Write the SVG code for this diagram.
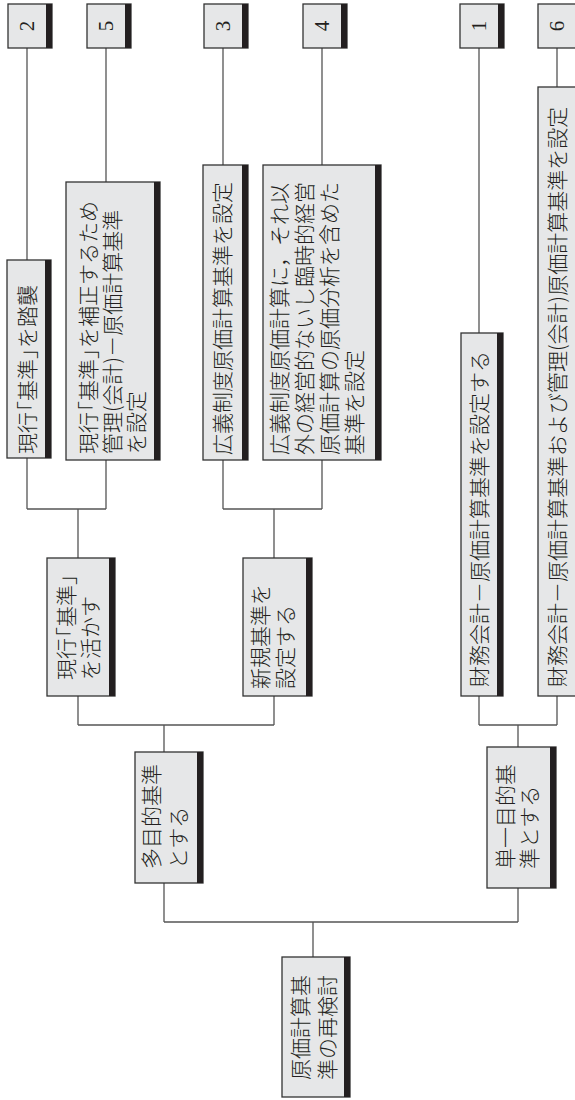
<svg xmlns="http://www.w3.org/2000/svg" width="575" height="1100" viewBox="0 0 575 1100">
<style>
.bx{fill:#e6e7e8;stroke:#333;stroke-width:1.3}
.sh{fill:#231f20}
.t{font-family:"Noto Sans CJK JP","Noto Sans CJK SC",sans-serif;font-size:21px;fill:#231f20;font-weight:300}
.n{font-family:"Liberation Serif",serif;font-size:21px;fill:#231f20;text-anchor:middle}
.c{fill:none;stroke:#555;stroke-width:1.3}
</style>
<rect width="575" height="1100" fill="#fff"/>
<g id="connectors" class="c">
<path d="M27,48V260M27,458V509M106,48V182M106,460V509M27,509H106M78,509V558"/>
<path d="M223,48V165M223,460V509M322,48V165M322,460V509M223,509H322M274,509V558"/>
<path d="M78,696V725M274,696V725M78,725H274M164,725V752"/>
<path d="M479,48V333M557,48V87M479,696V725M557,696V725M479,725H557M518,725V747"/>
<path d="M164,883V922M518,888V922M164,922H518M313,922V957"/>
</g>
<g id="n2"><rect class="bx" x="8" y="4" width="44" height="44"/><rect class="sh" x="46" y="4" width="6" height="44"/><text class="n" transform="translate(34,26) rotate(-90)">2</text></g>
<g id="n5"><rect class="bx" x="87" y="4" width="44" height="44"/><rect class="sh" x="125" y="4" width="6" height="44"/><text class="n" transform="translate(113,26) rotate(-90)">5</text></g>
<g id="n3"><rect class="bx" x="204" y="4" width="44" height="44"/><rect class="sh" x="242" y="4" width="6" height="44"/><text class="n" transform="translate(230,26) rotate(-90)">3</text></g>
<g id="n4"><rect class="bx" x="303" y="4" width="44" height="44"/><rect class="sh" x="341" y="4" width="6" height="44"/><text class="n" transform="translate(329,26) rotate(-90)">4</text></g>
<g id="n1"><rect class="bx" x="460" y="4" width="44" height="44"/><rect class="sh" x="498" y="4" width="6" height="44"/><text class="n" transform="translate(486,26) rotate(-90)">1</text></g>
<g id="n6"><rect class="bx" x="538" y="4" width="44" height="44"/><rect class="sh" x="576" y="4" width="6" height="44"/><text class="n" transform="translate(564,26) rotate(-90)">6</text></g>

<g id="leaf2"><rect class="bx" x="7" y="260" width="44" height="198"/><rect class="sh" x="45" y="260" width="6" height="198"/>
<text class="t" transform="translate(35,454) rotate(-90)">現行<tspan dx="-10">「</tspan>基準」<tspan dx="-10">を</tspan>踏襲</text></g>
<g id="leaf5"><rect class="bx" x="66" y="182" width="94" height="278"/><rect class="sh" x="154" y="182" width="6" height="278"/>
<text class="t" transform="translate(96,454) rotate(-90)">現行<tspan dx="-10">「</tspan>基準」<tspan dx="-10">を</tspan>補正するため</text>
<text class="t" transform="translate(120,454) rotate(-90)">管理(会計)－原価計算基準</text>
<text class="t" transform="translate(144,454) rotate(-90)">を設定</text></g>
<g id="leaf3"><rect class="bx" x="203" y="165" width="45" height="295"/><rect class="sh" x="242" y="165" width="6" height="295"/>
<text class="t" transform="translate(230,455) rotate(-90)">広義制度原価計算基準を設定</text></g>
<g id="leaf4"><rect class="bx" x="263" y="165" width="118" height="295"/><rect class="sh" x="375" y="165" width="6" height="295"/>
<text class="t" transform="translate(287,455) rotate(-90)">広義制度原価計算に，それ以</text>
<text class="t" transform="translate(312,455) rotate(-90)">外の経営的ないし臨時的経営</text>
<text class="t" transform="translate(337,455) rotate(-90)">原価計算の原価分析を含めた</text>
<text class="t" transform="translate(362,455) rotate(-90)">基準を設定</text></g>
<g id="leaf1"><rect class="bx" x="461" y="333" width="42" height="363"/><rect class="sh" x="497" y="333" width="6" height="363"/>
<text class="t" transform="translate(487,687) rotate(-90)">財務会計－原価計算基準を設定する</text></g>
<g id="leaf6"><rect class="bx" x="538" y="87" width="44" height="609"/><rect class="sh" x="576" y="87" width="6" height="609"/>
<text class="t" transform="translate(565,687) rotate(-90)">財務会計－原価計算基準および管理(会計)原価計算基準を設定</text></g>

<g id="mid1"><rect class="bx" x="47" y="558" width="68" height="138"/><rect class="sh" x="109" y="558" width="6" height="138"/>
<text class="t" transform="translate(74,680) rotate(-90)">現行<tspan dx="-10">「</tspan>基準」</text>
<text class="t" transform="translate(98,680) rotate(-90)">を活かす</text></g>
<g id="mid2"><rect class="bx" x="243" y="558" width="69" height="138"/><rect class="sh" x="306" y="558" width="6" height="138"/>
<text class="t" transform="translate(268,689) rotate(-90)">新規基準を</text>
<text class="t" transform="translate(293,689) rotate(-90)">設定する</text></g>
<g id="multi"><rect class="bx" x="135" y="752" width="68" height="131"/><rect class="sh" x="197" y="752" width="6" height="131"/>
<text class="t" transform="translate(159,869) rotate(-90)">多目的基準</text>
<text class="t" transform="translate(186,869) rotate(-90)">とする</text></g>
<g id="single"><rect class="bx" x="487" y="747" width="69" height="141"/><rect class="sh" x="550" y="747" width="6" height="141"/>
<text class="t" transform="translate(513,869) rotate(-90)">単一目的基</text>
<text class="t" transform="translate(537,869) rotate(-90)">準とする</text></g>
<g id="root"><rect class="bx" x="282" y="957" width="68" height="140"/><rect class="sh" x="344" y="957" width="6" height="140"/>
<text class="t" transform="translate(308,1080) rotate(-90)">原価計算基</text>
<text class="t" transform="translate(335,1080) rotate(-90)">準の再検討</text></g>
</svg>
